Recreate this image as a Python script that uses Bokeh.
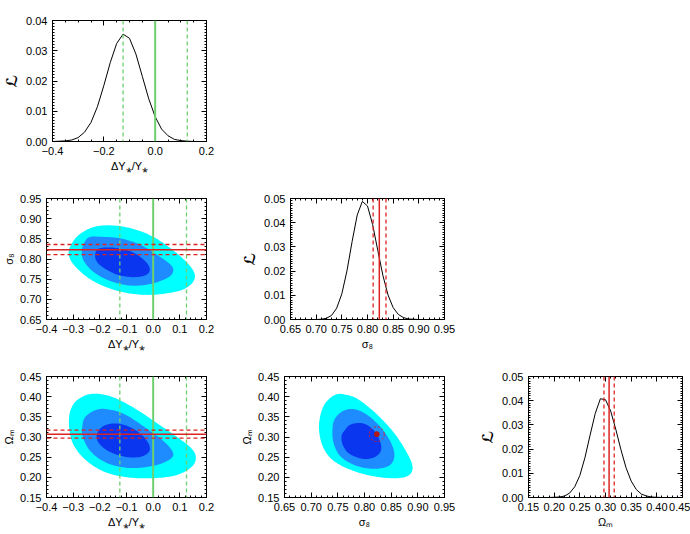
import numpy as np
from bokeh.plotting import figure
from bokeh.layouts import column, row
from bokeh.models import Range1d, FixedTicker, LinearAxis, CustomJSTickFormatter, Span
from bokeh.embed import file_html
from bokeh.resources import INLINE

# ---------------- marginal likelihoods ----------------
dy_x = [-0.400, -0.375, -0.350, -0.325, -0.300, -0.275, -0.250, -0.225, -0.200,
        -0.175, -0.150, -0.125, -0.100, -0.075, -0.050, -0.025, 0.000, 0.025,
        0.050, 0.075, 0.100, 0.125, 0.150, 0.175, 0.200]
dy_like = [0.0000, 0.0001, 0.0002, 0.0005, 0.0013, 0.0031, 0.0063, 0.0115, 0.0185,
           0.0261, 0.0324, 0.0355, 0.0341, 0.0289, 0.0215, 0.0141, 0.0082, 0.0041,
           0.0019, 0.0007, 0.0003, 0.0001, 0.0000, 0.0000, 0.0000]

s8_x = [0.65, 0.66, 0.67, 0.68, 0.69, 0.70, 0.71, 0.72, 0.73, 0.74, 0.75, 0.76,
        0.77, 0.78, 0.79, 0.80, 0.81, 0.82, 0.83, 0.84, 0.85, 0.86, 0.87, 0.88,
        0.89, 0.90, 0.91, 0.92, 0.93, 0.94, 0.95]
s8_like = [0.0, 0.0, 0.0, 0.0, 0.0, 0.0000, 0.0001, 0.0005, 0.0017, 0.0047, 0.0106,
           0.0201, 0.0322, 0.0432, 0.0488, 0.0469, 0.0392, 0.0286, 0.0182, 0.0101,
           0.0049, 0.0021, 0.0008, 0.0002, 0.0001, 0.0, 0.0, 0.0, 0.0, 0.0, 0.0]

om_x = [0.15, 0.16, 0.17, 0.18, 0.19, 0.20, 0.21, 0.22, 0.23, 0.24, 0.25, 0.26,
        0.27, 0.28, 0.29, 0.30, 0.31, 0.32, 0.33, 0.34, 0.35, 0.36, 0.37, 0.38,
        0.39, 0.40, 0.41, 0.42, 0.43, 0.44, 0.45]
om_like = [0.0, 0.0, 0.0, 0.0, 0.0, 0.0001, 0.0002, 0.0006, 0.0018, 0.0044, 0.0091,
           0.0165, 0.0258, 0.0347, 0.0408, 0.0404, 0.0358, 0.0282, 0.0198, 0.0123,
           0.0068, 0.0033, 0.0014, 0.0006, 0.0002, 0.0001, 0.0, 0.0, 0.0, 0.0, 0.0]

# ---------------- reference values ----------------
dy_fid = 0.0
dy_band = [-0.125, 0.125]
s8_ref = 0.823
s8_band = [0.811, 0.836]
om_ref = 0.307
om_band = [0.297, 0.317]

# ---------------- 2D confidence regions (1, 2, 3 sigma) ----------------
# dY/Y vs sigma_8
dys8_c3_x = [-0.219, -0.147, -0.072, 0.003, 0.078, 0.134, 0.156, 0.146, 0.103, 0.015,
             -0.072, -0.159, -0.234, -0.290, -0.315, -0.311, -0.278]
dys8_c3_y = [0.880, 0.883, 0.874, 0.854, 0.820, 0.786, 0.761, 0.740, 0.722, 0.712,
             0.713, 0.726, 0.749, 0.780, 0.806, 0.831, 0.860]
dys8_c2_x = [-0.240, -0.197, -0.122, -0.047, 0.015, 0.065, 0.075, 0.053, -0.010,
             -0.084, -0.159, -0.222, -0.259, -0.268, -0.259]
dys8_c2_y = [0.854, 0.855, 0.851, 0.835, 0.810, 0.786, 0.769, 0.753, 0.738,
             0.734, 0.745, 0.767, 0.794, 0.818, 0.839]
dys8_c1_x = [-0.197, -0.147, -0.084, -0.035, -0.013, -0.025, -0.072, -0.134, -0.190,
             -0.215, -0.215]
dys8_c1_y = [0.827, 0.828, 0.819, 0.798, 0.777, 0.761, 0.755, 0.761, 0.780,
             0.798, 0.818]

# dY/Y vs Omega_m
dyom_c3_x = [-0.313, -0.296, -0.265, -0.228, -0.184, -0.134, -0.059, 0.015, 0.090,
             0.143, 0.160, 0.146, 0.090, 0.003, -0.097, -0.184, -0.253, -0.299, -0.315]
dyom_c3_y = [0.359, 0.384, 0.400, 0.407, 0.405, 0.394, 0.367, 0.334, 0.300,
             0.272, 0.250, 0.227, 0.206, 0.198, 0.200, 0.214, 0.243, 0.281, 0.322]
dyom_c2_x = [-0.253, -0.215, -0.172, -0.109, -0.035, 0.040, 0.075, 0.059, 0.003,
             -0.084, -0.172, -0.234, -0.264, -0.265]
dyom_c2_y = [0.351, 0.367, 0.369, 0.357, 0.326, 0.289, 0.260, 0.243, 0.229,
             0.223, 0.235, 0.264, 0.301, 0.330]
dyom_c1_x = [-0.197, -0.159, -0.109, -0.059, -0.022, -0.013, -0.041, -0.097, -0.159,
             -0.199, -0.212]
dyom_c1_y = [0.322, 0.333, 0.330, 0.314, 0.289, 0.267, 0.252, 0.250, 0.262,
             0.281, 0.301]

# sigma_8 vs Omega_m
s8om_c3_x = [0.717, 0.727, 0.746, 0.765, 0.790, 0.825, 0.856, 0.880, 0.890, 0.884,
             0.862, 0.825, 0.781, 0.743, 0.723, 0.715]
s8om_c3_y = [0.352, 0.385, 0.405, 0.405, 0.392, 0.354, 0.309, 0.260, 0.227, 0.206,
             0.198, 0.201, 0.215, 0.240, 0.273, 0.314]
s8om_c2_x = [0.744, 0.759, 0.781, 0.806, 0.831, 0.850, 0.856, 0.846, 0.818, 0.784,
             0.755, 0.742, 0.740]
s8om_c2_y = [0.344, 0.364, 0.369, 0.354, 0.323, 0.285, 0.252, 0.229, 0.221, 0.229,
             0.252, 0.285, 0.319]
s8om_c1_x = [0.762, 0.774, 0.796, 0.815, 0.828, 0.831, 0.819, 0.796, 0.771, 0.759,
             0.757]
s8om_c1_y = [0.315, 0.331, 0.334, 0.320, 0.294, 0.267, 0.250, 0.246, 0.259, 0.281,
             0.302]

# ---------------- axes ----------------
dy_ticks_wide = [-0.4, -0.2, 0.0, 0.2]
dy_ticks = [-0.4, -0.3, -0.2, -0.1, 0.0, 0.1, 0.2]
s8_ticks = [0.65, 0.70, 0.75, 0.80, 0.85, 0.90, 0.95]
om_ticks = [0.15, 0.20, 0.25, 0.30, 0.35, 0.40, 0.45]
like_ticks_dy = [0.00, 0.01, 0.02, 0.03, 0.04]
like_ticks = [0.00, 0.01, 0.02, 0.03, 0.04, 0.05]

LBL_DY = "\u0394Y\u204e/Y\u204e"
LBL_S8 = "\u03c3\u2088"
LBL_OM = "\u03a9\u2098"
LBL_L = "\u2112"

C3 = "#00ffff"
C2 = "#1e8cff"
C1 = "#0a36f0"
GREEN = "#6fcf6f"
RED = "#dd2222"
FONT = "Liberation Sans"


def minor(ticks, n):
    step = (ticks[1] - ticks[0]) / n
    return list(np.arange(ticks[0], ticks[-1] + step / 2, step))


def smooth_closed(x, y, n=10):
    """Closed Catmull-Rom outline through the boundary points."""
    pts = np.column_stack([x, y])
    m = len(pts)
    out = []
    for i in range(m):
        p0, p1, p2, p3 = pts[(i - 1) % m], pts[i], pts[(i + 1) % m], pts[(i + 2) % m]
        for t in np.linspace(0, 1, n, endpoint=False):
            out.append(0.5 * (2 * p1 + (-p0 + p2) * t
                              + (2 * p0 - 5 * p1 + 4 * p2 - p3) * t * t
                              + (-p0 + 3 * p1 - 3 * p2 + p3) * t ** 3))
    out = np.array(out)
    return list(out[:, 0]), list(out[:, 1])


def style_axis(ax, ticks, nminor, dec, label, label_font=FONT, label_size="11px",
               label_style="normal"):
    ax.ticker = FixedTicker(ticks=ticks, minor_ticks=minor(ticks, nminor))
    ax.major_tick_in = 5
    ax.major_tick_out = 0
    ax.minor_tick_in = 2
    ax.minor_tick_out = 0
    ax.axis_line_color = "black"
    ax.major_tick_line_color = "black"
    ax.minor_tick_line_color = "black"
    if label is None:
        ax.formatter = CustomJSTickFormatter(code="return '';")
        ax.major_label_text_font_size = "1px"
        ax.major_label_standoff = 0
        ax.axis_label = None
    else:
        ax.formatter = CustomJSTickFormatter(
            code="return tick.toFixed(%d).replace('-', '\u2212');" % dec)
        ax.major_label_text_font = FONT
        ax.major_label_text_font_size = "11px"
        ax.major_label_text_color = "black"
        ax.major_label_standoff = 5
        ax.axis_label = label
        ax.axis_label_text_font = label_font
        ax.axis_label_text_font_size = label_size
        ax.axis_label_text_font_style = label_style
        ax.axis_label_text_color = "black"
        ax.axis_label_standoff = 2


def make_fig(xr, yr, xt, yt, xn, yn, xd, yd, xlabel, ylabel, width=238, rb=32):
    p = figure(width=width, height=178, x_range=Range1d(*xr), y_range=Range1d(*yr),
               output_backend="svg", toolbar_location=None,
               min_border_left=46, min_border_right=rb,
               min_border_top=20, min_border_bottom=37)
    p.grid.visible = False
    p.outline_line_color = "black"
    p.outline_line_width = 1
    if ylabel == LBL_L:
        lf, ls, lst = "DejaVu Sans", "15px", "bold"
    else:
        lf, ls, lst = FONT, "11px", "normal"
    style_axis(p.xaxis[0], xt, xn, xd, xlabel)
    style_axis(p.yaxis[0], yt, yn, yd, ylabel, lf, ls, lst)
    top = LinearAxis()
    right = LinearAxis()
    p.add_layout(top, "above")
    p.add_layout(right, "right")
    style_axis(top, xt, xn, xd, None)
    style_axis(right, yt, yn, yd, None)
    return p


def vlines(p, center, band, color, width):
    p.add_layout(Span(location=center, dimension="height", line_color=color,
                      line_width=width))
    for b in band:
        p.add_layout(Span(location=b, dimension="height", line_color=color,
                          line_width=1.3, line_dash="4 3"))


def hlines(p, center, band, color, width):
    p.add_layout(Span(location=center, dimension="width", line_color=color,
                      line_width=width))
    for b in band:
        p.add_layout(Span(location=b, dimension="width", line_color=color,
                          line_width=1.3, line_dash="4 3"))


def contours(p, c3, c2, c1):
    for (cx, cy), col in ((c3, C3), (c2, C2), (c1, C1)):
        sx, sy = smooth_closed(cx, cy)
        p.patch(sx, sy, fill_color=col, line_color=None)


# row 1: dY/Y likelihood
p11 = make_fig((-0.4, 0.2), (0.0, 0.04), dy_ticks_wide, like_ticks_dy, 4, 10, 1, 2,
               LBL_DY, LBL_L)
vlines(p11, dy_fid, dy_band, GREEN, 2)
p11.line(dy_x, dy_like, line_color="black", line_width=1)

# row 2
p21 = make_fig((-0.4, 0.2), (0.65, 0.95), dy_ticks, s8_ticks, 5, 5, 1, 2,
               LBL_DY, LBL_S8)
contours(p21, (dys8_c3_x, dys8_c3_y), (dys8_c2_x, dys8_c2_y), (dys8_c1_x, dys8_c1_y))
vlines(p21, dy_fid, dy_band, GREEN, 2)
hlines(p21, s8_ref, s8_band, RED, 1.5)

p22 = make_fig((0.65, 0.95), (0.0, 0.05), s8_ticks, like_ticks, 5, 10, 2, 2,
               LBL_S8, LBL_L)
vlines(p22, s8_ref, s8_band, RED, 1.5)
p22.line(s8_x, s8_like, line_color="black", line_width=1)

# row 3
p31 = make_fig((-0.4, 0.2), (0.15, 0.45), dy_ticks, om_ticks, 5, 5, 1, 2,
               LBL_DY, LBL_OM)
contours(p31, (dyom_c3_x, dyom_c3_y), (dyom_c2_x, dyom_c2_y), (dyom_c1_x, dyom_c1_y))
vlines(p31, dy_fid, dy_band, GREEN, 2)
hlines(p31, om_ref, om_band, RED, 1.5)

p32 = make_fig((0.65, 0.95), (0.15, 0.45), s8_ticks, om_ticks, 5, 5, 2, 2,
               LBL_S8, LBL_OM)
contours(p32, (s8om_c3_x, s8om_c3_y), (s8om_c2_x, s8om_c2_y), (s8om_c1_x, s8om_c1_y))
p32.ellipse(x=[s8_ref], y=[om_ref], width=0.028, height=0.037, fill_color=None,
            line_color=RED, line_width=1, line_dash="2 2")
p32.scatter(x=[s8_ref], y=[om_ref], size=5, color="#b01818")

p33 = make_fig((0.15, 0.45), (0.0, 0.05), om_ticks, like_ticks, 5, 10, 2, 2,
               LBL_OM, LBL_L, width=214, rb=8)
vlines(p33, om_ref, om_band, RED, 1.5)
p33.line(om_x, om_like, line_color="black", line_width=1)

layout = column(row(p11), row(p21, p22), row(p31, p32, p33))
open("out.html", "w").write(file_html(layout, INLINE))
